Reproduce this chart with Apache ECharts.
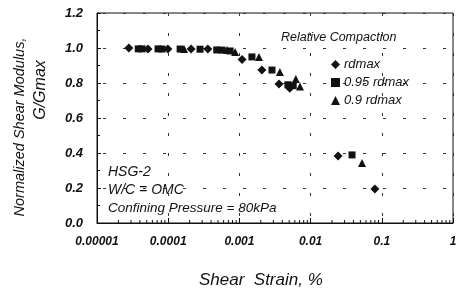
<!DOCTYPE html>
<html>
<head>
<meta charset="utf-8">
<script src="https://cdn.jsdelivr.net/npm/echarts@6/dist/echarts.min.js"></script>
<style>
  html, body { margin: 0; padding: 0; background: #fff; }
  #main { width: 463px; height: 297px; }
</style>
</head>
<body>
<div id="main"></div>
<script>
  // shear strain (%) and G/Gmax
  var strainRd = [0.000028, 0.000052, 0.000099, 0.00021, 0.00036, 0.00109, 0.00207, 0.0036, 0.0051, 0.0243, 0.080];
  var ggRd     = [1.0, 0.995, 0.995, 0.994, 0.994, 0.935, 0.874, 0.794, 0.77, 0.383, 0.194];

  var strain95 = [0.000038, 0.000043, 0.000072, 0.000082, 0.000147, 0.00028, 0.00048, 0.00057, 0.00074, 0.0015, 0.00287, 0.0048, 0.0057, 0.0382];
  var gg95     = [0.995, 0.995, 0.995, 0.994, 0.994, 0.993, 0.989, 0.988, 0.983, 0.949, 0.874, 0.79, 0.785, 0.389];

  var strain90 = [0.000167, 0.00067, 0.00087, 0.00188, 0.0037, 0.0062, 0.0071, 0.0527];
  var gg90     = [0.995, 0.989, 0.977, 0.949, 0.863, 0.823, 0.78, 0.343];

  var xTickLabels = ['0.00001', '0.0001', '0.001', '0.01', '0.1', '1'];
  var seriesNames = ['rdmax', '0.95 rdmax', '0.9 rdmax'];

  // minor ticks of the log axis: 2..9 in every decade
  var minorTicks = [];
  for (var d = -5; d < 0; d++) {
    for (var k = 2; k <= 9; k++) minorTicks.push([k * Math.pow(10, d)]);
  }

  function pairs(xs, ys) {
    return xs.map(function (x, i) { return [x, ys[i]]; });
  }

  var font = '"Liberation Sans", Arial, sans-serif';
  var ink = '#111';

  var option = {
    animation: false,
    grid: {
      left: 97, right: 10, top: 13, bottom: 74,
      show: true, borderColor: ink, borderWidth: 1
    },
    legend: {
      orient: 'vertical',
      left: 326, top: 53,
      itemWidth: 9, itemHeight: 9, itemGap: 5,
      data: [
        { name: seriesNames[0], icon: 'diamond' },
        { name: seriesNames[1], icon: 'rect' },
        { name: seriesNames[2], icon: 'triangle' }
      ],
      textStyle: { fontFamily: font, fontStyle: 'italic', fontSize: 13, color: ink, padding: [0, 0, 0, -1] }
    },
    xAxis: {
      type: 'log', logBase: 10, min: 0.00001, max: 1,
      axisLine: { lineStyle: { color: ink } },
      axisTick: { inside: true, length: 5, lineStyle: { color: ink } },
      axisLabel: {
        margin: 13,
        fontFamily: font, fontStyle: 'italic', fontWeight: 'bold', fontSize: 12, color: ink,
        formatter: function (v) { return xTickLabels[Math.round(Math.log10(v)) + 5]; }
      },
      splitLine: { show: true, lineStyle: { color: '#333', type: [3, 17], width: 1 } }
    },
    yAxis: {
      type: 'value', min: 0, max: 1.2, interval: 0.2,
      axisLine: { show: true, lineStyle: { color: ink } },
      axisTick: { show: true, inside: true, length: 4, lineStyle: { color: ink } },
      minorTick: { show: true, splitNumber: 2, length: 3, lineStyle: { color: ink } },
      axisLabel: {
        margin: 14,
        fontFamily: font, fontStyle: 'italic', fontWeight: 'bold', fontSize: 13, color: ink,
        formatter: function (v) { return v.toFixed(1); }
      },
      splitLine: { show: true, lineStyle: { color: '#333', type: [3, 17], width: 1, dashOffset: 14 } }
    },
    graphic: [
      { type: 'text', left: 108, top: 165, style: { text: 'HSG-2', font: 'italic 14px ' + font, fill: ink } },
      { type: 'text', left: 108, top: 183, style: { text: 'W/C = OMC', font: 'italic 14px ' + font, fill: ink } },
      { type: 'text', left: 108, top: 201, style: { text: 'Confining Pressure = 80kPa', font: 'italic 13.5px ' + font, fill: ink } },
      { type: 'text', left: 281, top: 31, style: { text: 'Relative Compaction', font: 'italic 12.5px ' + font, fill: ink } },
      { type: 'text', left: 199, top: 272, style: { text: 'Shear  Strain, %', font: 'italic 17px ' + font, fill: ink } },
      {
        type: 'text', x: 20, y: 127, rotation: Math.PI / 2,
        style: { text: 'Normalized Shear Modulus,', font: 'italic 14.5px ' + font, fill: ink, align: 'center', verticalAlign: 'middle' }
      },
      {
        type: 'text', x: 41, y: 90, rotation: Math.PI / 2,
        style: { text: 'G/Gmax', font: 'italic 16px ' + font, fill: ink, align: 'center', verticalAlign: 'middle' }
      }
    ],
    series: [
      {
        name: seriesNames[0], type: 'scatter', symbol: 'diamond', symbolSize: 9,
        itemStyle: { color: ink, opacity: 1 }, data: pairs(strainRd, ggRd)
      },
      {
        name: seriesNames[1], type: 'scatter', symbol: 'rect', symbolSize: 7,
        itemStyle: { color: ink, opacity: 1 }, data: pairs(strain95, gg95)
      },
      {
        name: seriesNames[2], type: 'scatter', symbol: 'triangle', symbolSize: 8,
        itemStyle: { color: ink, opacity: 1 }, data: pairs(strain90, gg90)
      },
      {
        type: 'custom', silent: true, legendHoverLink: false,
        encode: { x: 0 },
        renderItem: function (params, api) {
          var p = api.coord([api.value(0), 0]);
          return {
            type: 'line',
            shape: { x1: p[0], y1: p[1], x2: p[0], y2: p[1] - 3 },
            style: { stroke: ink, lineWidth: 1 }
          };
        },
        data: minorTicks
      }
    ]
  };

  var chart = echarts.init(document.getElementById('main'));
  chart.setOption(option);
</script>
</body>
</html>
